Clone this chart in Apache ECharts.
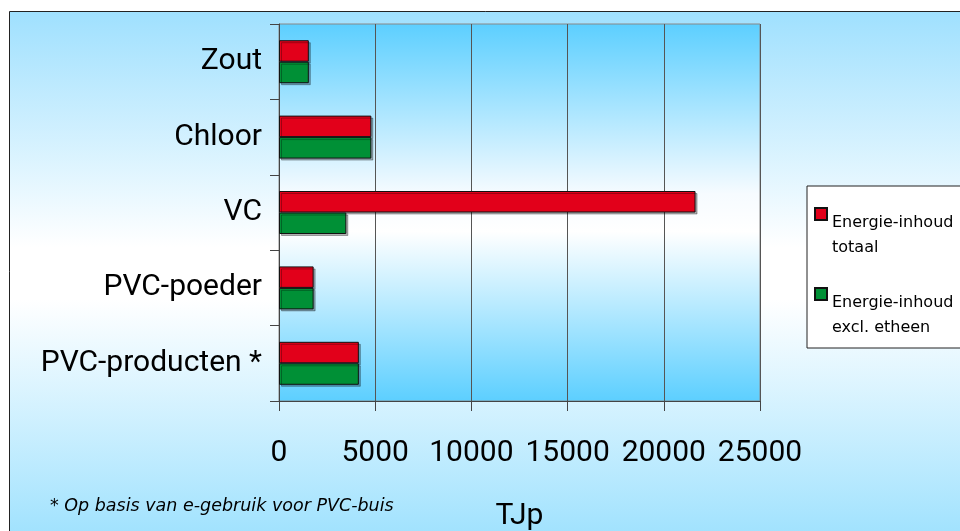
<!DOCTYPE html>
<html>
<head>
<meta charset="utf-8">
<script src="https://cdn.jsdelivr.net/npm/echarts@6/dist/echarts.min.js"></script>
<style>
  html, body { margin: 0; padding: 0; background: #fff; }
  #chart { width: 960px; height: 531px; }
</style>
</head>
<body>
<div id="chart"></div>
<script>
// categories (top to bottom) and values in TJp
var categories = ['Zout', 'Chloor', 'VC', 'PVC-poeder', 'PVC-producten *'];
var totaal = [1550, 4800, 21650, 1800, 4150];
var exclEtheen = [1550, 4800, 3500, 1800, 4150];
var xTicks = [0, 5000, 10000, 15000, 20000, 25000];
var seriesNames = ['Energie-inhoud totaal', 'Energie-inhoud excl. etheen'];
var legendLabels = ['Energie-inhoud\ntotaal', 'Energie-inhoud\nexcl. etheen'];

var labelFont = 'Roboto, sans-serif';

var chart = echarts.init(document.getElementById('chart'));

function vGrad(stops) {
    return new echarts.graphic.LinearGradient(0, 0, 0, 1, stops);
}

var barShadow = {
    borderColor: '#111',
    borderWidth: 1,
    shadowColor: 'rgba(0,0,0,0.3)',
    shadowBlur: 0,
    shadowOffsetX: 2,
    shadowOffsetY: 2
};

var option = {
    animation: false,
    graphic: [{
        type: 'rect',
        z: -10,
        silent: true,
        shape: { x: 9.5, y: 11.5, width: 1000, height: 524 },
        style: {
            fill: vGrad([
                { offset: 0, color: '#9fe0fe' },
                { offset: 0.45, color: '#ffffff' },
                { offset: 0.55, color: '#ffffff' },
                { offset: 1, color: '#a0e2fe' }
            ]),
            stroke: '#222',
            lineWidth: 1
        }
    }, {
        type: 'text',
        left: 50,
        top: 497,
        style: {
            text: '* Op basis van e-gebruik voor PVC-buis',
            font: 'italic 17.5px "DejaVu Sans"',
            fill: '#000'
        }
    }],
    grid: {
        left: 279, right: 200, top: 24, bottom: 130,
        outerBoundsMode: 'none',
        show: true,
        borderColor: '#888',
        borderWidth: 1,
        backgroundColor: vGrad([
            { offset: 0, color: '#5ccfff' },
            { offset: 0.45, color: '#f6fbff' },
            { offset: 0.55, color: '#ffffff' },
            { offset: 1, color: '#5ccfff' }
        ])
    },
    legend: {
        orient: 'vertical',
        left: 807,
        top: 186,
        data: seriesNames,
        backgroundColor: '#ffffff',
        borderColor: '#222',
        borderWidth: 1,
        borderRadius: 0,
        padding: [21, 30, 4, 7],
        itemGap: 23,
        itemWidth: 12,
        itemHeight: 55,
        icon: 'path://M0,0L12,0L12,12L0,12ZM0,55L0,55',
        itemStyle: { shadowColor: 'transparent', shadowOffsetX: 0, shadowOffsetY: 0 },
        formatter: function (name) {
            return legendLabels[seriesNames.indexOf(name)];
        },
        textStyle: { fontFamily: 'DejaVu Sans', fontSize: 16, lineHeight: 25, color: '#000' }
    },
    xAxis: {
        type: 'value',
        min: 0,
        max: 25000,
        interval: 5000,
        name: 'TJp',
        nameLocation: 'middle',
        nameGap: 100,
        nameTextStyle: { fontFamily: labelFont, fontSize: 30, color: '#000' },
        axisLine: { show: true, lineStyle: { color: '#444', width: 1 } },
        axisTick: { show: true, length: 10, lineStyle: { color: '#444' } },
        splitLine: { show: true, lineStyle: { color: '#555', width: 1 } },
        axisLabel: {
            margin: 37,
            fontFamily: labelFont,
            fontSize: 30,
            color: '#000',
            formatter: function (v) { return xTicks.indexOf(v) >= 0 ? String(v) : ''; }
        }
    },
    yAxis: {
        type: 'category',
        inverse: true,
        data: categories,
        axisLine: { show: true, lineStyle: { color: '#444', width: 1 } },
        axisTick: { show: true, length: 9, alignWithLabel: false, lineStyle: { color: '#444' } },
        axisLabel: { margin: 17, fontFamily: labelFont, fontSize: 30, color: '#000' }
    },
    series: [{
        name: seriesNames[0],
        type: 'bar',
        data: totaal,
        barGap: '0%',
        barCategoryGap: '43%',
        itemStyle: Object.assign({ color: '#e2001a' }, barShadow)
    }, {
        name: seriesNames[1],
        type: 'bar',
        data: exclEtheen,
        barGap: '0%',
        barCategoryGap: '43%',
        itemStyle: Object.assign({ color: '#009036' }, barShadow)
    }]
};

chart.setOption(option);
</script>
</body>
</html>
